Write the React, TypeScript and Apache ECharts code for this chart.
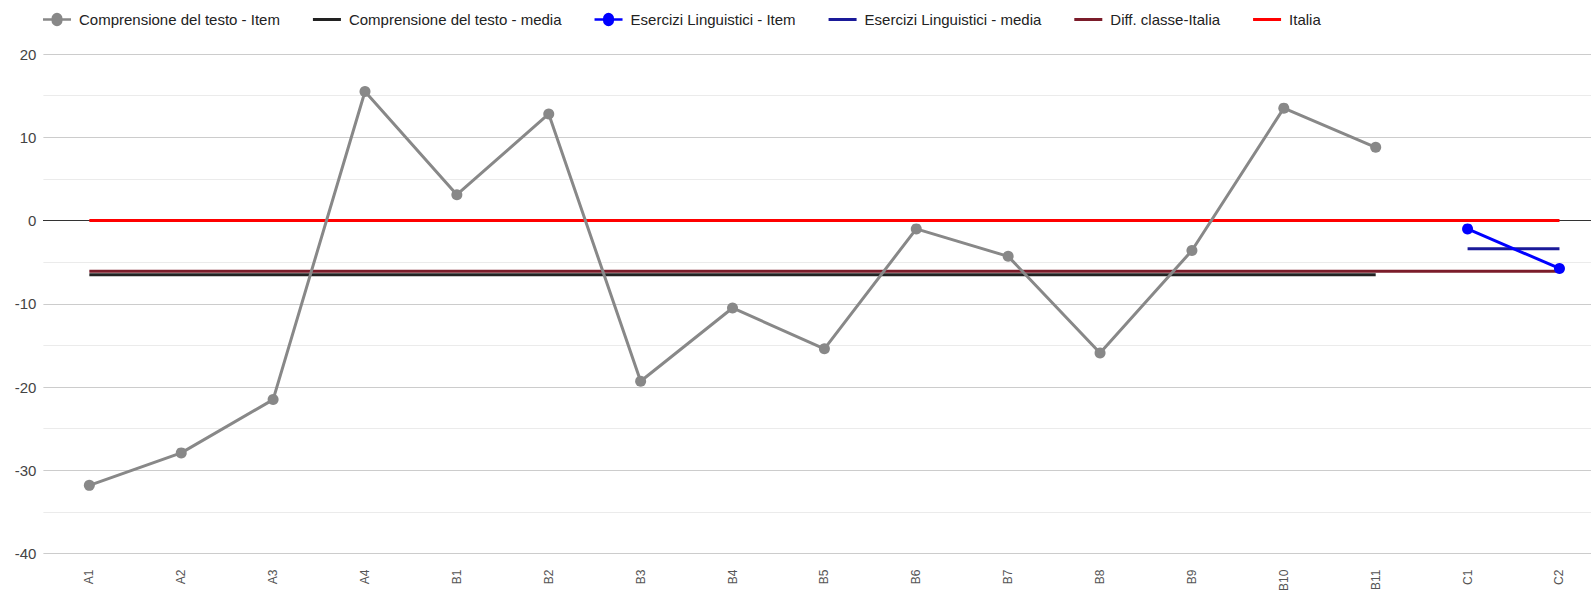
import React, { useEffect, useRef } from "react";
import * as echarts from "echarts";

const categories = ["A1", "A2", "A3", "A4", "B1", "B2", "B3", "B4", "B5", "B6", "B7", "B8", "B9", "B10", "B11", "C1", "C2"];
const comprensioneItem: (number | null)[] = [-31.8, -27.9, -21.5, 15.5, 3.1, 12.8, -19.3, -10.5, -15.4, -1.0, -4.3, -15.9, -3.6, 13.5, 8.8, null, null];
const comprensioneMedia: (number | null)[] = [-6.5, -6.5, -6.5, -6.5, -6.5, -6.5, -6.5, -6.5, -6.5, -6.5, -6.5, -6.5, -6.5, -6.5, -6.5, null, null];
const eserciziItem: (number | null)[] = [null, null, null, null, null, null, null, null, null, null, null, null, null, null, null, -1.0, -5.75];
const eserciziMedia: (number | null)[] = [null, null, null, null, null, null, null, null, null, null, null, null, null, null, null, -3.4, -3.4];
const diffClasseItalia: number[] = [-6.1, -6.1, -6.1, -6.1, -6.1, -6.1, -6.1, -6.1, -6.1, -6.1, -6.1, -6.1, -6.1, -6.1, -6.1, -6.1, -6.1];
const italia: number[] = [0, 0, 0, 0, 0, 0, 0, 0, 0, 0, 0, 0, 0, 0, 0, 0, 0];
const yTicks = { min: -40, max: 20, interval: 10 };

const FONT = '"Liberation Sans", Arial, sans-serif';
const LINE_ICON = "path://M0,0L0.01,0L0.01,0.01L0,0.01ZM0,5.5L28,5.5L28,8.5L0,8.5ZM0,14L0.01,14L0.01,13.99L0,13.99Z";
const DOT_ICON = "path://M0,0L0.01,0L0.01,0.01L0,0.01ZM0,5.8L8.5,5.8A5.5,5.5,0,0,1,19.5,5.8L28,5.8L28,8.2L19.5,8.2A5.5,5.5,0,0,1,8.5,8.2L0,8.2ZM0,14L0.01,14L0.01,13.99L0,13.99Z";

export default function App() {
  const ref = useRef<HTMLDivElement>(null);
  useEffect(() => {
    if (!ref.current) return;
    const chart = echarts.init(ref.current, undefined, { renderer: "svg" });
    const lineSeries = (name: string, data: (number | null)[], color: string, withSymbol: boolean, z: number) => ({
      name,
      type: "line",
      data,
      xAxisIndex: 0,
      yAxisIndex: 0,
      z,
      symbol: withSymbol ? "circle" : "none",
      symbolSize: 11,
      showSymbol: withSymbol,
      connectNulls: false,
      lineStyle: { color, width: 3 },
      itemStyle: { color },
      emphasis: { disabled: true },
    });
    chart.setOption({
      animation: false,
      textStyle: { fontFamily: FONT },
      legend: {
        top: 7,
        left: 38,
        itemWidth: 28,
        itemHeight: 14,
        itemGap: 33,
        textStyle: { fontSize: 15, color: "#222", fontFamily: FONT, padding: [0, 0, 0, 3] },
        data: [
          { name: "Comprensione del testo - Item", icon: DOT_ICON },
          { name: "Comprensione del testo - media", icon: LINE_ICON },
          { name: "Esercizi Linguistici - Item", icon: DOT_ICON },
          { name: "Esercizi Linguistici - media", icon: LINE_ICON },
          { name: "Diff. classe-Italia", icon: LINE_ICON },
          { name: "Italia", icon: LINE_ICON },
        ],
      },
      grid: { left: 43.4, top: 54, width: 1562, height: 504.3, containLabel: false },
      xAxis: [
        {
          type: "category",
          data: categories,
          position: "bottom",
          boundaryGap: true,
          axisLine: { show: false, onZero: false },
          axisTick: { show: false },
          axisLabel: { rotate: 90, fontSize: 12, color: "#555", margin: 16, fontFamily: FONT, interval: 0 },
          splitLine: { show: false },
        },
        {
          type: "category",
          data: categories,
          position: "bottom",
          boundaryGap: true,
          axisLine: { show: true, onZero: true, lineStyle: { color: "#333", width: 1 } },
          axisTick: { show: false },
          axisLabel: { show: false },
          splitLine: { show: false },
        },
      ],
      yAxis: {
        type: "value",
        min: yTicks.min,
        max: yTicks.max,
        interval: yTicks.interval,
        axisLine: { show: false },
        axisTick: { show: false },
        axisLabel: { fontSize: 15, color: "#444", margin: 7, fontFamily: FONT },
        splitLine: { lineStyle: { color: "#cccccc", width: 1 } },
        minorTick: { show: false, splitNumber: 2 },
        minorSplitLine: { show: true, lineStyle: { color: "#ebebeb", width: 1 } },
      },
      series: [
        lineSeries("Comprensione del testo - Item", comprensioneItem, "#888888", true, 6),
        lineSeries("Comprensione del testo - media", comprensioneMedia, "#222222", false, 3),
        lineSeries("Esercizi Linguistici - Item", eserciziItem, "#0000ff", true, 6),
        lineSeries("Esercizi Linguistici - media", eserciziMedia, "#1a1a99", false, 3),
        lineSeries("Diff. classe-Italia", diffClasseItalia, "#7b1c2a", false, 4),
        lineSeries("Italia", italia, "#ff0000", false, 5),
      ],
    });
    return () => chart.dispose();
  }, []);
  return (
    <div style={{ position: "fixed", left: 0, top: 0, width: 1591, height: 594, overflow: "hidden", background: "#fff" }}>
      <div ref={ref} style={{ width: 1615, height: 594 }} />
    </div>
  );
}
